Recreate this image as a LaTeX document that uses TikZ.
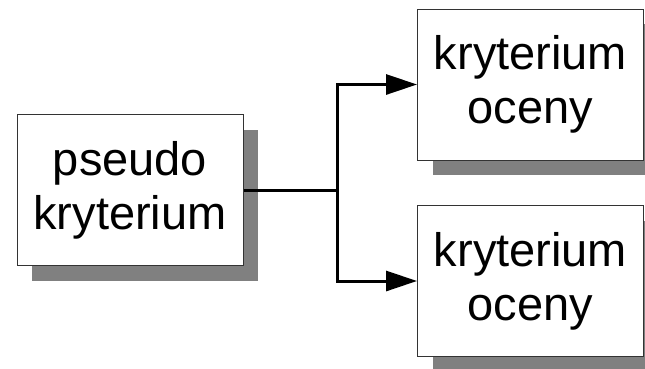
\documentclass[tikz,border=0pt]{standalone}
\usepackage{fontspec}
\setmainfont{Liberation Sans}
\usepackage{tikz}
\usetikzlibrary{arrows.meta,shadows}

\begin{document}
\begin{tikzpicture}[x=1pt,y=-1pt,
    box/.style={rectangle, draw=black!80, line width=1pt, fill=white,
        minimum width=226pt, minimum height=151pt, align=center, inner sep=0pt,
        font=\fontsize{47}{54}\selectfont,
        drop shadow={shadow xshift=15pt, shadow yshift=-15pt, fill=black!50, opacity=1}},
    link/.style={line width=3pt}]
            \useasboundingbox (0,0) rectangle (645,368);
            % Nodes
            \node[box] (pseudo) at (130,190) {pseudo\\kryterium};
            \node[box] (oc1) at (530.5,84.5) {kryterium\\oceny};
            \node[box] (oc2) at (530.5,281) {kryterium\\oceny};
            \coordinate (split) at (337,190);

            % Edges
            \draw[link] (pseudo.east) -- (split);
            \draw[link, -{Triangle[length=31pt,width=20pt]}] (split) |- (oc1.west);
            \draw[link, -{Triangle[length=31pt,width=20pt]}] (split) |- (oc2.west);
        \end{tikzpicture}
\end{document}
